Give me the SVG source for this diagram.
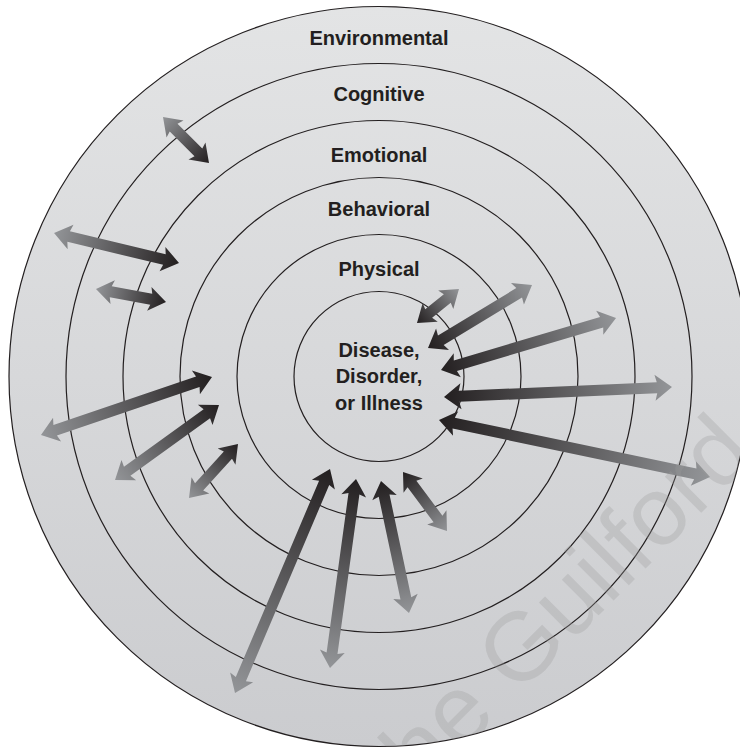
<svg xmlns="http://www.w3.org/2000/svg" width="740" height="750" viewBox="0 0 740 750">
  <defs>
    <linearGradient id="bg" x1="0" y1="6" x2="0" y2="747" gradientUnits="userSpaceOnUse">
      <stop offset="0" stop-color="#e3e4e5"/>
      <stop offset="1" stop-color="#cbcccf"/>
    </linearGradient>
    <linearGradient id="ag" x1="0" y1="0" x2="1" y2="0">
      <stop offset="0" stop-color="#231f20"/>
      <stop offset="1" stop-color="#939598"/>
    </linearGradient>
    <clipPath id="outerClip">
      <circle cx="379" cy="376.5" r="370"/>
    </clipPath>
    <style>
      .ring { fill: none; stroke: #231f20; stroke-width: 1.2; }
      .lbl { font-family: "Liberation Sans", Arial, sans-serif; font-weight: bold; font-size: 20px; fill: #231f20; text-anchor: middle; }
      .arr { fill: url(#ag); }
      .wm { font-family: "Liberation Sans", Arial, sans-serif; font-size: 97px; fill: #9a9b9d; fill-opacity: 0.3; }
    </style>
  </defs>

  <g id="environmental">
    <circle cx="379" cy="376.5" r="370" fill="url(#bg)" stroke="#231f20" stroke-width="1.2"/>
    <text class="lbl" x="379" y="45">Environmental</text>
  </g>
  <g id="cognitive">
    <circle class="ring" cx="379" cy="376.5" r="313"/>
    <text class="lbl" x="379" y="101">Cognitive</text>
  </g>
  <g id="emotional">
    <circle class="ring" cx="379" cy="376.5" r="256"/>
    <text class="lbl" x="379" y="162">Emotional</text>
  </g>
  <g id="behavioral">
    <circle class="ring" cx="379" cy="376.5" r="199"/>
    <text class="lbl" x="379" y="216">Behavioral</text>
  </g>
  <g id="physical">
    <circle class="ring" cx="379" cy="376.5" r="142"/>
    <text class="lbl" x="379" y="276">Physical</text>
  </g>
  <g id="disease">
    <circle class="ring" cx="379" cy="376.5" r="85"/>
    <text class="lbl" x="379" y="357">Disease,</text>
    <text class="lbl" x="379" y="383">Disorder,</text>
    <text class="lbl" x="379" y="410">or Illness</text>
  </g>

  <g id="connectors">
    <polygon class="arr" transform="translate(209,163) rotate(-135)" points="0,0 17,-12 15,-5.5 50.05,-5.5 48.05,-12 65.05,0 48.05,12 50.05,5.5 15,5.5 17,12"/>
    <polygon class="arr" transform="translate(179,263) rotate(-166.5)" points="0,0 17,-12.5 15,-5.5 113.5,-5.5 111.5,-12.5 128.5,0 111.5,12.5 113.5,5.5 15,5.5 17,12.5"/>
    <polygon class="arr" transform="translate(166,302) rotate(-169.48)" points="0,0 17,-12 15,-5.5 56.2,-5.5 54.2,-12 71.2,0 54.2,12 56.2,5.5 15,5.5 17,12"/>
    <polygon class="arr" transform="translate(417,323) rotate(-38.99)" points="0,0 17,-12 15,-5.5 39,-5.5 37,-12 54,0 37,12 39,5.5 15,5.5 17,12"/>
    <polygon class="arr" transform="translate(428,348) rotate(-31.21)" points="0,0 17,-12.5 15,-5.5 106.6,-5.5 104.6,-12.5 121.6,0 104.6,12.5 106.6,5.5 15,5.5 17,12.5"/>
    <polygon class="arr" transform="translate(441,370) rotate(-16.55)" points="0,0 17,-12.5 15,-5.5 167.6,-5.5 165.6,-12.5 182.6,0 165.6,12.5 167.6,5.5 15,5.5 17,12.5"/>
    <polygon class="arr" transform="translate(444,397) rotate(-2.51)" points="0,0 17,-13 15,-5.5 213.2,-5.5 211.2,-13 228.2,0 211.2,13 213.2,5.5 15,5.5 17,13"/>
    <polygon class="arr" transform="translate(439,420) rotate(11.88)" points="0,0 17,-12.5 15,-5.5 261.9,-5.5 259.9,-12.5 276.9,0 259.9,12.5 261.9,5.5 15,5.5 17,12.5"/>
    <polygon class="arr" transform="translate(212,377) rotate(161.26)" points="0,0 17,-12.5 15,-5.5 165.6,-5.5 163.6,-12.5 180.6,0 163.6,12.5 165.6,5.5 15,5.5 17,12.5"/>
    <polygon class="arr" transform="translate(219,405) rotate(144.2)" points="0,0 17,-12.5 15,-5.5 113.2,-5.5 111.2,-12.5 128.2,0 111.2,12.5 113.2,5.5 15,5.5 17,12.5"/>
    <polygon class="arr" transform="translate(238,444) rotate(132.22)" points="0,0 17,-12 15,-5.5 57.9,-5.5 55.9,-12 72.9,0 55.9,12 57.9,5.5 15,5.5 17,12"/>
    <polygon class="arr" transform="translate(330,469) rotate(112.98)" points="0,0 17,-12.5 15,-5.5 228.3,-5.5 226.3,-12.5 243.3,0 226.3,12.5 228.3,5.5 15,5.5 17,12.5"/>
    <polygon class="arr" transform="translate(356,479) rotate(97.83)" points="0,0 17,-12.5 15,-5.5 175.8,-5.5 173.8,-12.5 190.8,0 173.8,12.5 175.8,5.5 15,5.5 17,12.5"/>
    <polygon class="arr" transform="translate(381,481) rotate(78.02)" points="0,0 17,-12.5 15,-5.5 119.9,-5.5 117.9,-12.5 134.9,0 117.9,12.5 119.9,5.5 15,5.5 17,12.5"/>
    <polygon class="arr" transform="translate(403,472) rotate(53.29)" points="0,0 17,-12 15,-5.5 58.6,-5.5 56.6,-12 73.6,0 56.6,12 58.6,5.5 15,5.5 17,12"/>
  </g>

  <g id="watermark" clip-path="url(#outerClip)">
    <text class="wm" transform="translate(403,811) rotate(-45)" x="0" y="0">the Guilford</text>
  </g>
</svg>
